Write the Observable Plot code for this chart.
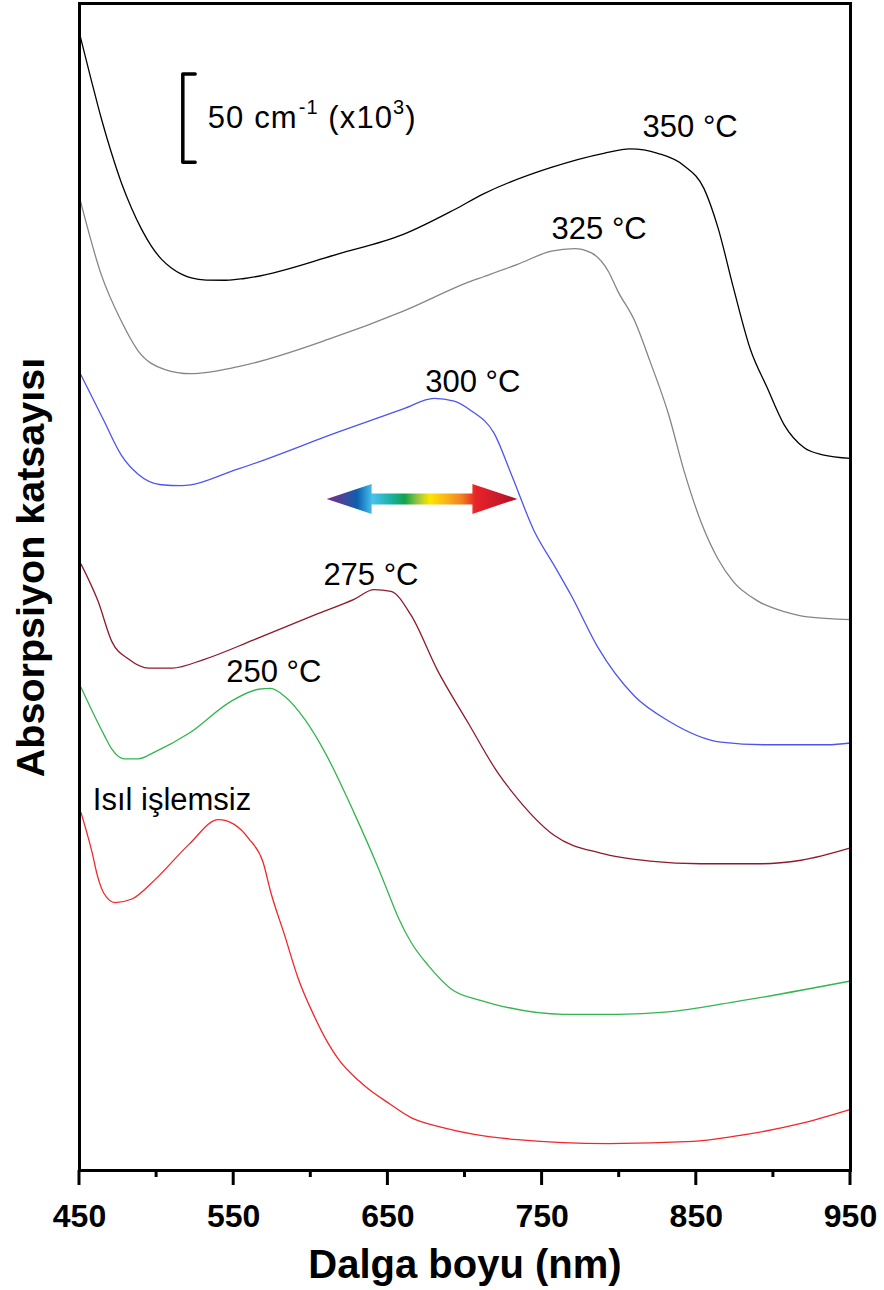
<!DOCTYPE html>
<html>
<head>
<meta charset="utf-8">
<script src="https://cdn.jsdelivr.net/npm/d3@7"></script>
<script src="https://cdn.jsdelivr.net/npm/@observablehq/plot@0.6"></script>
<style>
  html, body { margin: 0; padding: 0; background: #fff; }
  #chart svg { display: block; }
</style>
</head>
<body>
<div id="chart"></div>
<script>
// ---- Data (absorption in 10^3 cm^-1, curves vertically offset as in the figure) ----
const seriesNames = ["350 °C", "325 °C", "300 °C", "275 °C", "250 °C", "Isıl işlemsiz"];

const wl350  = [450, 457.8, 464.2, 470.7, 477.2, 483.7, 490.2, 496.6, 503.1, 509.6, 516.1, 522.5, 532.3, 545, 557, 618, 660, 693, 712, 756, 790, 807, 825, 842, 855, 864, 874, 885, 896, 907, 920, 932, 950];
const abs350 = [645, 618, 596.6, 577.3, 560.2, 546, 534, 524.4, 517, 512, 508.5, 506.3, 505.1, 505, 506, 520, 531, 545, 554, 569, 577, 579.5, 577, 570, 557, 535, 501, 466, 444, 423, 410, 406, 404];

const wl325  = [450, 464, 477, 488, 505, 522, 553, 613, 660, 704, 712, 734, 756, 771, 782, 793, 799, 810, 820, 832, 842, 853, 864, 874, 890, 907, 922, 950];
const abs325 = [552, 508.5, 482, 465, 454.5, 452, 456, 472, 487.5, 504.5, 507, 514, 521.5, 523, 520.5, 510, 499, 482, 459, 429, 397, 368, 347, 334, 323, 317, 314, 312.5];

const wl300  = [450, 466, 477, 488, 503, 516, 553, 618, 660, 680, 693, 704, 719, 730, 745, 758, 769, 786, 810, 832, 866, 896, 935, 950];
const abs300 = [453, 425, 406, 395, 389, 388.5, 398, 419, 432, 438, 436.5, 431, 418, 395, 362.5, 343, 326, 297, 269, 255, 243, 241.5, 241.5, 242.5];

const wl275  = [451, 462, 471, 482, 495, 510, 531, 563, 605, 628, 641, 652, 665, 682, 702, 721, 734, 758, 788, 820, 853, 892, 918, 950];
const abs275 = [344, 323, 300, 290, 285, 285, 290, 301, 316, 324, 329.5, 328.5, 315, 284, 254, 226, 211, 190, 180, 175.5, 174, 174, 176, 183];

const wl250  = [451, 466, 471, 479, 488, 499, 521, 548, 566, 574, 583, 596, 609, 628, 644, 650, 657, 665, 676, 691, 710, 719, 764, 799, 832, 874, 950];
const abs250 = [274, 247, 239, 233.5, 233.5, 237.5, 248, 266, 273, 273.5, 269, 256, 237.5, 203, 171, 158, 143, 129.5, 116.5, 103, 96.5, 94.3, 88.6, 88.6, 90, 95.5, 107.5];

const wlRaw  = [451, 458, 462, 466, 473, 484, 499, 521, 540, 550, 560, 569, 574, 583, 592, 602, 611, 618, 631, 637, 650, 665, 685, 706, 734, 793, 848, 874, 918, 950];
const absRaw = [203, 181, 166, 157, 152, 154, 165, 185, 199, 196.5, 188, 175, 158, 133.5, 108.5, 88, 72.5, 63, 51, 46.5, 38.5, 30, 24.5, 20.5, 17.5, 15.3, 16.5, 19.3, 26.7, 34.7];

const wavelengths = [wl350, wl325, wl300, wl275, wl250, wlRaw];
const absorptions = [abs350, abs325, abs300, abs275, abs250, absRaw];

// axis ticks
const majorTicks = [450, 550, 650, 750, 850, 950];
const minorTicks = [500, 600, 700, 800, 900];

// curve labels
const labelTexts = ["350 °C", "325 °C", "300 °C", "275 °C", "250 °C", "Isıl işlemsiz"];
const labelWl    = [846, 787, 705, 639, 576, 510];
const labelAbs   = [592, 534, 447, 338, 283, 210];

// scale bar: 50 (x10^3 cm^-1)
const scaleBarLength = 50;
const scaleBarBase = 572;
const scaleBarWl = 517;
const scaleBarText = { main: "50 cm", sup1: "-1", mid: " (x10", sup2: "3", end: ")" };

// spectrum arrow (shift direction of the band)
const arrowWl = [610.6, 734.3];
const arrowAbs = 380.7;

// ---- Build tables ----
const rows = [];
seriesNames.forEach((name, i) => {
  wavelengths[i].forEach((w, j) => rows.push({ series: name, wl: w, a: absorptions[i][j] }));
});
const labels = labelTexts.map((t, i) => ({ t, wl: labelWl[i], a: labelAbs[i] }));
const bracket = [
  { wl: scaleBarWl + 8, a: scaleBarBase + scaleBarLength },
  { wl: scaleBarWl, a: scaleBarBase + scaleBarLength },
  { wl: scaleBarWl, a: scaleBarBase },
  { wl: scaleBarWl + 8, a: scaleBarBase }
];

const FONT = "Arial, 'Liberation Sans', Helvetica, sans-serif";
const W = 884, H = 1290;
const mL = 79, mR = 34, mT = 3, mB = 120;

// outward ticks on the bottom frame edge, positioned with the x scale
function ticksMark(index, scales, values, dimensions) {
  const y0 = dimensions.height - dimensions.marginBottom;
  const g = d3.create("svg:g").attr("stroke", "black").attr("stroke-width", 3);
  majorTicks.forEach(t => g.append("line")
    .attr("x1", scales.x(t)).attr("x2", scales.x(t)).attr("y1", y0).attr("y2", y0 + 15));
  minorTicks.forEach(t => g.append("line")
    .attr("x1", scales.x(t)).attr("x2", scales.x(t)).attr("y1", y0).attr("y2", y0 + 7));
  return g.node();
}

function scaleBarTextMark(index, scales) {
  const sx = scales.x, sy = scales.y;
  const g = d3.create("svg:g");
  const t = g.append("text")
    .attr("x", sx(533.5)).attr("y", sy(scaleBarBase + scaleBarLength / 2))
    .attr("dy", "0.35em")
    .attr("text-anchor", "start")
    .attr("letter-spacing", "1.1")
    .attr("font-family", FONT).attr("font-size", 31).attr("fill", "black");
  t.append("tspan").text(scaleBarText.main);
  t.append("tspan").attr("font-size", 20).attr("dx", 1).attr("dy", "-0.7em").text(scaleBarText.sup1);
  t.append("tspan").attr("dy", "0.45em").text(scaleBarText.mid);
  t.append("tspan").attr("font-size", 20).attr("dy", "-0.7em").text(scaleBarText.sup2);
  t.append("tspan").attr("dy", "0.45em").text(scaleBarText.end);
  return g.node();
}

function arrowMark(index, scales) {
  const x0 = scales.x(arrowWl[0]), x1 = scales.x(arrowWl[1]), y = scales.y(arrowAbs);
  const head = 45, hh = 15, sh = 5.5;
  const g = d3.create("svg:g");
  const grad = g.append("defs").append("linearGradient")
    .attr("id", "rainbow").attr("gradientUnits", "userSpaceOnUse")
    .attr("x1", x0).attr("x2", x1).attr("y1", y).attr("y2", y);
  const stops = [
    [0, "#7b2a8a"], [0.1, "#3b4b9e"], [0.16, "#0d5fae"], [0.24, "#48c2ee"],
    [0.34, "#1bb0a0"], [0.41, "#13a24c"], [0.48, "#9cc83c"], [0.54, "#ffe600"],
    [0.63, "#f9b21b"], [0.71, "#f07f22"], [0.78, "#e8232a"], [0.92, "#c5182a"], [1, "#a3121f"]
  ];
  stops.forEach(([o, c]) => grad.append("stop").attr("offset", o).attr("stop-color", c));
  const pts = [
    [x0, y], [x0 + head, y - hh], [x0 + head, y - sh], [x1 - head, y - sh], [x1 - head, y - hh],
    [x1, y], [x1 - head, y + hh], [x1 - head, y + sh], [x0 + head, y + sh], [x0 + head, y + hh]
  ];
  g.append("polygon").attr("points", pts.map(p => p.join(",")).join(" ")).attr("fill", "url(#rainbow)");
  return g.node();
}

const chart = Plot.plot({
  width: W, height: H,
  marginLeft: mL, marginRight: mR, marginTop: mT, marginBottom: mB,
  style: { fontFamily: FONT, background: "white", color: "black" },
  x: { domain: [450, 950], axis: null },
  y: { domain: [0, 662], axis: null },
  color: {
    domain: seriesNames,
    range: ["#000000", "#858585", "#4d55ee", "#8e1a2c", "#33b54f", "#f2262b"]
  },
  marks: [
    Plot.line(rows, { x: "wl", y: "a", z: "series", stroke: "series", strokeWidth: 1.3, curve: "monotone-x" }),
    Plot.frame({ stroke: "black", strokeWidth: 3 }),
    ticksMark,
    Plot.text(majorTicks, {
      x: d => d, text: d => String(d), frameAnchor: "bottom", dy: 46.5, lineAnchor: "middle",
      textAnchor: "middle", fontSize: 32, fontWeight: "bold"
    }),
    Plot.text(["Dalga boyu (nm)"], {
      text: d => d, frameAnchor: "bottom", dy: 95, lineAnchor: "middle", textAnchor: "middle",
      fontSize: 40, fontWeight: "bold"
    }),
    Plot.text(["Absorpsiyon katsayısı"], {
      text: d => d, frameAnchor: "left", dx: -48, dy: -19.5, rotate: -90, lineAnchor: "middle",
      textAnchor: "middle", fontSize: 39.5, fontWeight: "bold"
    }),
    Plot.text(labels, {
      x: "wl", y: "a", text: "t", fontSize: 31, lineAnchor: "middle", textAnchor: "middle", fill: "black"
    }),
    Plot.line(bracket, { x: "wl", y: "a", stroke: "black", strokeWidth: 3.5, curve: "linear" }),
    scaleBarTextMark,
    arrowMark
  ]
});

document.getElementById("chart").appendChild(chart);
</script>
</body>
</html>
